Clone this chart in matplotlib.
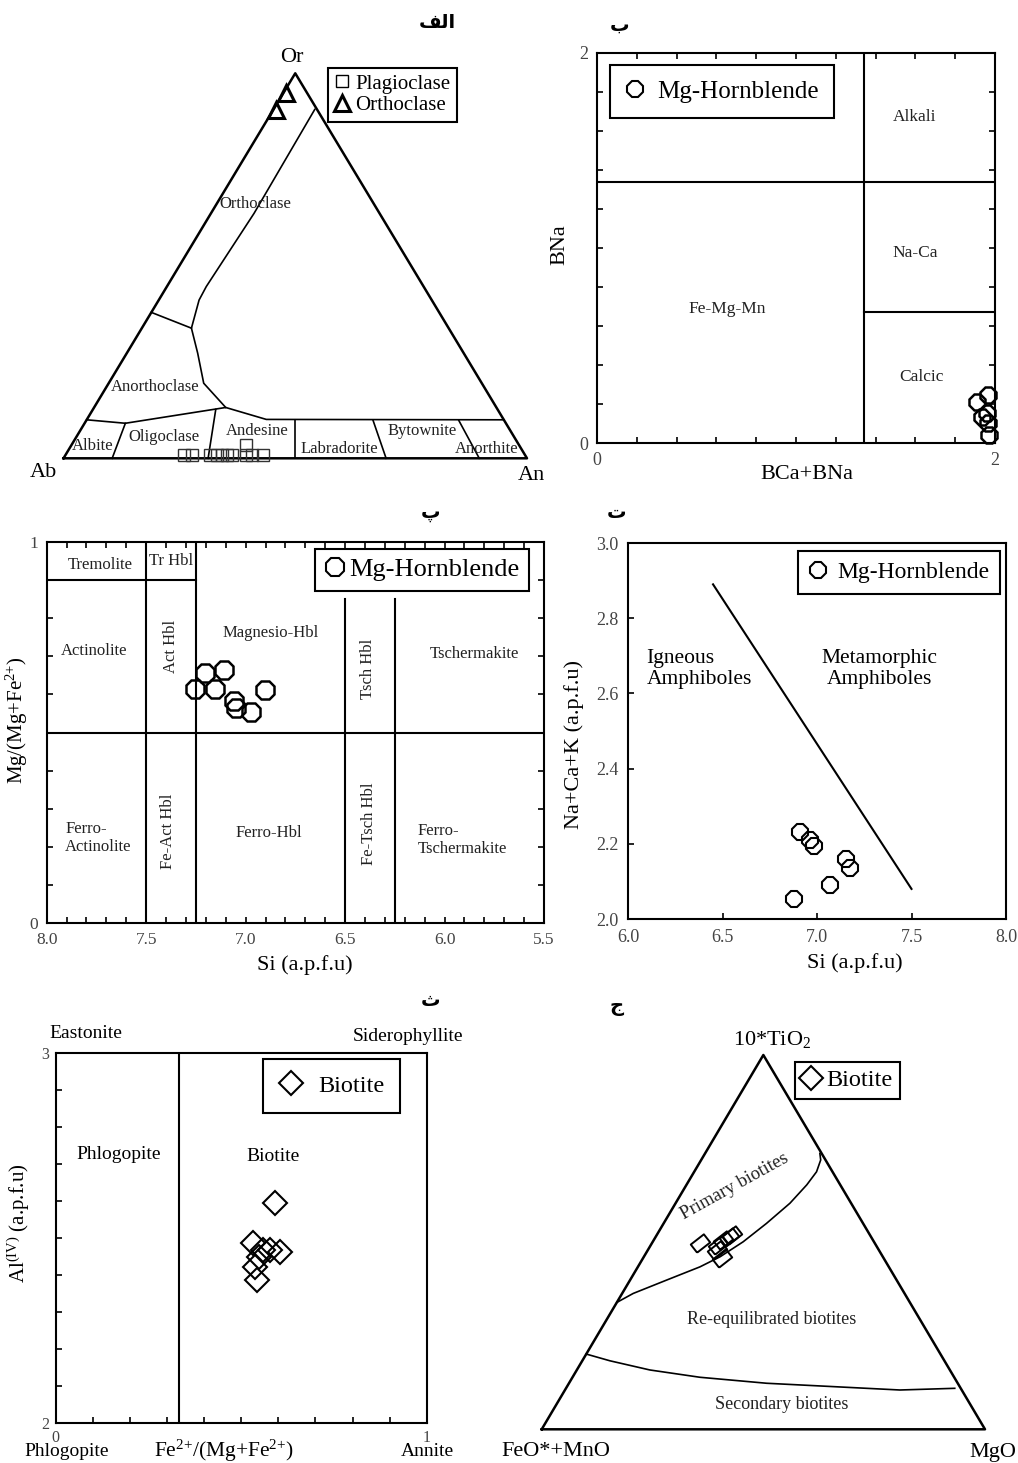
import numpy as np
import matplotlib.pyplot as plt
from matplotlib.lines import Line2D

plt.rcParams['font.family'] = ['Liberation Serif', 'DejaVu Sans']
plt.rcParams['mathtext.fontset'] = 'custom'
plt.rcParams['mathtext.rm'] = 'Liberation Serif'
plt.rcParams['mathtext.default'] = 'rm'
plt.rcParams['axes.linewidth'] = 1.5

# ---------------- data ----------------
# panel labels (الف written in display order with presentation forms, no shaping in mpl)
panel_labels = ['ﻒﻟا', 'ب', 'پ', 'ت', 'ث', 'ج']

# الف  Or-Ab-An feldspar ternary, compositions as (An, Or) fractions
plag_an = [0.255, 0.273, 0.312, 0.327, 0.338, 0.348, 0.359, 0.376, 0.390, 0.402, 0.426]
plag_or = [0.008, 0.008, 0.008, 0.008, 0.008, 0.008, 0.008, 0.035, 0.008, 0.008, 0.008]
orth_an = [0.005, 0.005]
orth_or = [0.950, 0.905]
fsp_lines = [
    [(0.0, 0.10), (0.088, 0.091), (0.284, 0.132), (0.387, 0.101), (0.90, 0.10)],
    [(0.089, 0.906), (0.093, 0.636), (0.085, 0.446), (0.087, 0.411), (0.107, 0.338),
     (0.153, 0.273), (0.205, 0.195), (0.284, 0.132)],
    [(0.0, 0.379), (0.107, 0.338)],
    [(0.088, 0.091), (0.105, 0.0)],
    [(0.265, 0.127), (0.312, 0.0)],
    [(0.45, 0.10), (0.50, 0.0)],
    [(0.619, 0.098), (0.696, 0.0)],
    [(0.804, 0.098), (0.897, 0.0)],
]

# ب  BCa+BNa vs BNa
hbl_bcana = [1.966, 1.908, 1.958, 1.933, 1.966, 1.971]
hbl_bna = [0.247, 0.213, 0.154, 0.136, 0.102, 0.042]
leake_cana = 1.34
leake_na = [0.67, 1.34]

# پ  Si vs Mg/(Mg+Fe2+)
hbl_si = [7.254, 7.205, 7.110, 7.155, 7.056, 7.047, 6.975, 6.903]
hbl_mg = [0.613, 0.657, 0.664, 0.613, 0.583, 0.563, 0.555, 0.611]

# ت  Si vs Na+Ca+K
hbl2_si = [6.908, 6.965, 6.983, 7.156, 7.174, 7.070, 6.879]
hbl2_nck = [2.232, 2.210, 2.194, 2.159, 2.135, 2.090, 2.052]
ign_meta_si = [6.45, 7.50]
ign_meta_nck = [2.89, 2.08]

# ث  Fe2+/(Mg+Fe2+) vs Al(IV)
bt_fe = [0.591, 0.533, 0.559, 0.578, 0.605, 0.549, 0.537, 0.542]
bt_al = [2.595, 2.485, 2.467, 2.467, 2.462, 2.448, 2.422, 2.386]

# ج  10*TiO2 - (FeO*+MnO) - MgO ternary, fractions of TiO2 and MgO
bt_ti = [0.497, 0.492, 0.506, 0.515, 0.519, 0.457, 0.479]
bt_mgo = [0.108, 0.152, 0.157, 0.164, 0.169, 0.178, 0.155]
prim_ti = [0.737, 0.7195, 0.688, 0.653, 0.604, 0.550, 0.501, 0.461, 0.434, 0.399, 0.363, 0.339]
prim_mgo = [0.259, 0.2696, 0.276, 0.2714, 0.258, 0.232, 0.204, 0.172, 0.140, 0.083, 0.025, 0.0]
sec_ti = [0.201, 0.183, 0.1585, 0.139, 0.123, 0.114, 0.105, 0.1095]
sec_mgo = [0.0, 0.0625, 0.1648, 0.2875, 0.446, 0.601, 0.7555, 0.877]

# ---------------- figure ----------------
W, H = 1018, 1463
fig = plt.figure(figsize=(W / 100, H / 100), dpi=100)


def box(l, t, r, b):
    return fig.add_axes([l / W, 1 - b / H, (r - l) / W, (b - t) / H])


def ftext(x, y, s, **kw):
    fig.text(x / W, 1 - y / H, s, **kw)


def frame_legend(ax, handles, anchor, fs, **kw):
    lg = ax.legend(handles=handles, loc='upper left', bbox_to_anchor=anchor,
                   fancybox=False, edgecolor='k', framealpha=1, fontsize=fs,
                   borderaxespad=0, **kw)
    lg.get_frame().set_linewidth(1.5)
    return lg


def oct_handle(label, ms=13):
    return Line2D([], [], marker='8', ls='none', mfc='none', mec='k', ms=ms, mew=1.5, label=label)


lab = dict(fontsize=12, ha='center', va='center', color='#222')

for s, (x, y) in zip(panel_labels, [(437, 23), (620, 25), (431, 513), (617, 513), (430, 1000), (617, 1006)]):
    ftext(x, y, s, family='DejaVu Sans', fontweight='bold', fontsize=14, ha='center', va='center')

# ---- الف feldspar ternary
ax1 = box(63.5, 73.3, 527, 458.3)
ax1.set_xlim(0, 1)
ax1.set_ylim(0, 1)
ax1.axis('off')


def fsp(an, orr):
    an = np.asarray(an, float)
    orr = np.asarray(orr, float)
    return an + orr / 2, orr


ax1.plot([0, 1, 0.5, 0], [0, 0, 1, 0], color='k', lw=1.8, clip_on=False)
for line in fsp_lines:
    a, o = np.array(line).T
    ax1.plot(*fsp(a, o), color='k', lw=1.2, clip_on=False)
ax1.plot(*fsp(plag_an, plag_or), 's', ms=9, mfc='none', mec='#333', mew=1.0, clip_on=False)
ax1.plot(*fsp(orth_an, orth_or), '^', ms=12, mfc='none', mec='k', mew=2.2, clip_on=False)
for s, x, y in [('Orthoclase', 0.414, 0.661), ('Anorthoclase', 0.198, 0.186), ('Albite', 0.062, 0.032),
                ('Oligoclase', 0.217, 0.055), ('Andesine', 0.417, 0.071), ('Labradorite', 0.595, 0.024),
                ('Bytownite', 0.774, 0.071), ('Anorthite', 0.913, 0.024)]:
    ax1.text(x, y, s, **lab)
ftext(292, 58, 'Or', fontsize=16, ha='center', va='center')
ftext(43, 473, 'Ab', fontsize=16, ha='center', va='center')
ftext(531, 475, 'An', fontsize=16, ha='center', va='center')
frame_legend(ax1, [Line2D([], [], marker='s', ls='none', mfc='none', mec='k', ms=9, mew=1.0, label='Plagioclase'),
                   Line2D([], [], marker='^', ls='none', mfc='none', mec='k', ms=11, mew=2.2, label='Orthoclase')],
             (0.571, 1.014), 15, handlelength=0.7, handletextpad=0.3, borderpad=0.3, labelspacing=0.1)

# ---- ب
ax2 = box(597, 52.7, 995, 443.3)
ax2.set_xlim(0, 2)
ax2.set_ylim(0, 2)
ax2.plot([leake_cana, leake_cana], [0, 2], color='k', lw=1.5)
ax2.plot([0, 2], [leake_na[1], leake_na[1]], color='k', lw=1.5)
ax2.plot([leake_cana, 2], [leake_na[0], leake_na[0]], color='k', lw=1.5)
ax2.plot(hbl_bcana, hbl_bna, '8', ms=13, mfc='none', mec='k', mew=1.8, clip_on=False)
ax2.set_xticks(np.linspace(0, 2, 11), ['0'] + [''] * 9 + ['2'])
ax2.set_yticks(np.linspace(0, 2, 11), ['0'] + [''] * 9 + ['2'])
ax2.tick_params(direction='in', top=True, right=True, length=4, width=1.2, labelsize=13,
                labelcolor='#444', pad=6)
ax2.set_xlabel('BCa+BNa', fontsize=16)
ax2.set_ylabel('BNa', fontsize=16)
ax2.xaxis.set_label_coords(0.528, -0.056)
ax2.yaxis.set_label_coords(-0.07, 0.508)
for s, x, y in [('Alkali', 1.598, 1.671), ('Na-Ca', 1.601, 0.974), ('Calcic', 1.628, 0.34), ('Fe-Mg-Mn', 0.653, 0.688)]:
    ax2.text(x, y, s, **dict(lab, fontsize=12.5))
frame_legend(ax2, [oct_handle('Mg-Hornblende')], (0.033, 0.968), 18,
             handlelength=0.8, handletextpad=0.5, borderpad=0.6)

# ---- پ
ax3 = box(46.7, 541.7, 544, 923.3)
ax3.set_xlim(8.0, 5.5)
ax3.set_ylim(0, 1)
for si, top in [(7.5, 1), (7.25, 1), (6.5, 0.85), (6.25, 0.85)]:
    ax3.plot([si, si], [0, top], color='k', lw=1.5)
ax3.plot([8.0, 5.5], [0.5, 0.5], color='k', lw=1.5)
ax3.plot([8.0, 7.25], [0.9, 0.9], color='k', lw=1.5)
ax3.plot(hbl_si, hbl_mg, '8', ms=14, mfc='none', mec='k', mew=1.8)
ax3.set_xticks(np.arange(8.0, 5.49, -0.5), ['8.0', '7.5', '7.0', '6.5', '6.0', '5.5'])
ax3.set_xticks(np.arange(8.0, 5.49, -0.1), minor=True)
ax3.set_yticks([0, 1], ['0', '1'])
ax3.set_yticks(np.linspace(0, 1, 11), minor=True)
ax3.tick_params(which='both', direction='in', top=True, right=True, length=4, width=1.2,
                labelsize=12.5, labelcolor='#444', pad=6)
ax3.set_xlabel('Si (a.p.f.u)', fontsize=16)
ax3.set_ylabel('Mg/(Mg+Fe$^{2{+}}$)', fontsize=15)
ax3.xaxis.set_label_coords(0.519, -0.083)
ax3.yaxis.set_label_coords(-0.033, 0.533)
for s, x, y, r in [('Tremolite', 7.73, 0.94, 0), ('Tr Hbl', 7.374, 0.95, 0), ('Actinolite', 7.76, 0.714, 0),
                   ('Act Hbl', 7.374, 0.725, 90), ('Magnesio-Hbl', 6.876, 0.76, 0), ('Tsch Hbl', 6.385, 0.668, 90),
                   ('Tschermakite', 5.85, 0.707, 0), ('Ferro-\nActinolite', 7.74, 0.223, 0),
                   ('Fe-Act Hbl', 7.39, 0.24, 90), ('Ferro-Hbl', 6.885, 0.236, 0),
                   ('Fe-Tsch Hbl', 6.38, 0.262, 90), ('Ferro-\nTschermakite', 5.91, 0.218, 0)]:
    ax3.text(x, y, s, rotation=r, multialignment='left', **lab)
frame_legend(ax3, [oct_handle('Mg-Hornblende', 13.5)], (0.54, 0.982), 19,
             handlelength=0.8, handletextpad=0.15, borderpad=0.35)

# ---- ت
ax4 = box(628, 543, 1006, 919)
ax4.set_xlim(6.0, 8.0)
ax4.set_ylim(2.0, 3.0)
ax4.plot(ign_meta_si, ign_meta_nck, color='k', lw=1.5)
ax4.plot(hbl2_si, hbl2_nck, '8', ms=13, mfc='none', mec='k', mew=1.5)
ax4.set_xticks(np.arange(6.0, 8.01, 0.5), ['6.0', '6.5', '7.0', '7.5', '8.0'])
ax4.set_yticks(np.arange(2.0, 3.01, 0.2), ['2.0', '2.2', '2.4', '2.6', '2.8', '3.0'])
ax4.tick_params(direction='in', length=4, width=1.2, labelsize=13, labelcolor='#444', pad=7)
ax4.set_xlabel('Si (a.p.f.u)', fontsize=16)
ax4.set_ylabel('Na+Ca+K (a.p.f.u)', fontsize=16)
ax4.xaxis.set_label_coords(0.6, -0.09)
ax4.yaxis.set_label_coords(-0.117, 0.463)
ax4.text(6.097, 2.665, 'Igneous\nAmphiboles', fontsize=15.5, ha='left', va='center', linespacing=1.15)
ax4.text(7.33, 2.665, 'Metamorphic\nAmphiboles', fontsize=15.5, ha='center', va='center', linespacing=1.15)
frame_legend(ax4, [oct_handle('Mg-Hornblende')], (0.45, 0.978), 17,
             handlelength=0.8, handletextpad=0.4, borderpad=0.45)

# ---- ث
ax5 = box(55.7, 1052.7, 426.7, 1422.7)
ax5.set_xlim(0, 1)
ax5.set_ylim(2, 3)
ax5.plot([1 / 3, 1 / 3], [2, 3], color='k', lw=1.5)
ax5.plot(bt_fe, bt_al, 'D', ms=12.5, mfc='none', mec='k', mew=1.5)
ax5.set_xticks(np.linspace(0, 1, 11), ['0'] + [''] * 9 + ['1'])
ax5.set_yticks(np.linspace(2, 3, 11), ['2'] + [''] * 9 + ['3'])
ax5.tick_params(direction='in', length=4, width=1.2, labelsize=11.5, labelcolor='#444', pad=5)
ax5.set_ylabel('Al$^{(IV)}$ (a.p.f.u)', fontsize=15)
ax5.yaxis.set_label_coords(-0.065, 0.54)
ax5.text(0.454, 1.925, 'Fe$^{2{+}}$/(Mg+Fe$^{2{+}}$)', fontsize=15.5, ha='center', va='center', clip_on=False)
ax5.text(0.03, 1.922, 'Phlogopite', fontsize=14, ha='center', va='center', clip_on=False)
ax5.text(1.002, 1.922, 'Annite', fontsize=14, ha='center', va='center', clip_on=False)
ax5.text(0.08, 3.053, 'Eastonite', fontsize=14, ha='center', va='center', clip_on=False)
ax5.text(0.949, 3.045, 'Siderophyllite', fontsize=14, ha='center', va='center', clip_on=False)
ax5.text(0.169, 2.726, 'Phlogopite', fontsize=14, ha='center', va='center')
ax5.text(0.587, 2.719, 'Biotite', fontsize=14, ha='center', va='center')
frame_legend(ax5, [Line2D([], [], marker='D', ls='none', mfc='none', mec='k', ms=12, mew=1.5, label='Biotite')],
             (0.56, 0.983), 17.5, handlelength=1.0, handletextpad=0.6, borderpad=0.65)

# ---- ج biotite ternary
ax6 = box(541.7, 1055, 985, 1429.3)
ax6.set_xlim(0, 1)
ax6.set_ylim(0, 1)
ax6.axis('off')


def btern(ti, mgo):
    ti = np.asarray(ti, float)
    mgo = np.asarray(mgo, float)
    return mgo + ti / 2, ti


ang = np.deg2rad(38)
rect = np.array([[-1, -0.62], [1, -0.62], [1, 0.62], [-1, 0.62], [-1, -0.62]])
rect = rect @ np.array([[np.cos(ang), np.sin(ang)], [-np.sin(ang), np.cos(ang)]])

ax6.plot([0, 1, 0.5, 0], [0, 0, 1, 0], color='k', lw=1.8, clip_on=False)
ax6.plot(*btern(prim_ti, prim_mgo), color='k', lw=1.2)
ax6.plot(*btern(sec_ti, sec_mgo), color='k', lw=1.2)
ax6.plot(*btern(bt_ti, bt_mgo), ls='none', marker=rect, ms=14, mfc='none', mec='k', mew=1.4)
ax6.text(0.436, 0.648, 'Primary biotites', rotation=29, **dict(lab, fontsize=13.5))
ax6.text(0.519, 0.294, 'Re-equilibrated biotites', **dict(lab, fontsize=13))
ax6.text(0.541, 0.065, 'Secondary biotites', **dict(lab, fontsize=13))
ftext(771.7, 1040, '10*TiO$_2$', fontsize=16, ha='center', va='center')
ftext(556, 1452, 'FeO*+MnO', fontsize=16, ha='center', va='center')
ftext(1016, 1452, 'MgO', fontsize=16, ha='right', va='center')
frame_legend(ax6, [Line2D([], [], marker='D', ls='none', mfc='none', mec='k', ms=12, mew=1.5, label='Biotite')],
             (0.571, 0.981), 17.5, handlelength=0.7, handletextpad=0.3, borderpad=0.3)

fig.savefig('out.png', dpi=100)
